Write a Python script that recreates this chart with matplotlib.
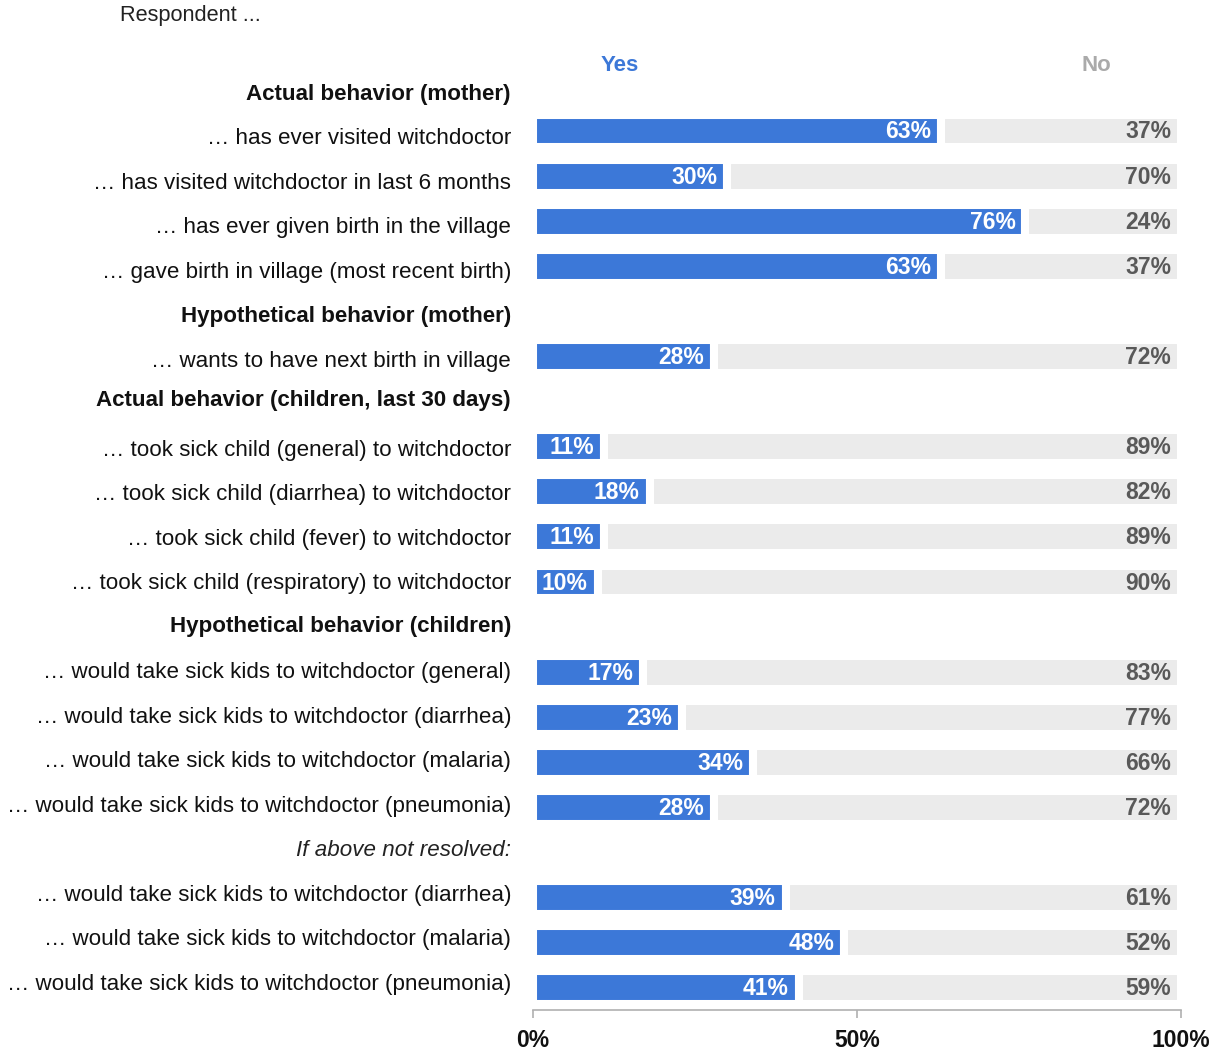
import matplotlib
matplotlib.use("Agg")
import matplotlib.pyplot as plt
from matplotlib.transforms import blended_transform_factory

# Survey items (row order, top to bottom) and their answer shares in %
items = [
    "… has ever visited witchdoctor",
    "… has visited witchdoctor in last 6 months",
    "… has ever given birth in the village",
    "… gave birth in village (most recent birth)",
    "… wants to have next birth in village",
    "… took sick child (general) to witchdoctor",
    "… took sick child (diarrhea) to witchdoctor",
    "… took sick child (fever) to witchdoctor",
    "… took sick child (respiratory) to witchdoctor",
    "… would take sick kids to witchdoctor (general)",
    "… would take sick kids to witchdoctor (diarrhea)",
    "… would take sick kids to witchdoctor (malaria)",
    "… would take sick kids to witchdoctor (pneumonia)",
    "… would take sick kids to witchdoctor (diarrhea)",
    "… would take sick kids to witchdoctor (malaria)",
    "… would take sick kids to witchdoctor (pneumonia)",
]
yes_pct = [63, 30, 76, 63, 28, 11, 18, 11, 10, 17, 23, 34, 28, 39, 48, 41]
no_pct = [37, 70, 24, 37, 72, 89, 82, 89, 90, 83, 77, 66, 72, 61, 52, 59]

# Section headings and the item index each one precedes
headings = [
    ("Actual behavior (mother)", 0, "bold"),
    ("Hypothetical behavior (mother)", 4, "bold"),
    ("Actual behavior (children, last 30 days)", 5, "bold"),
    ("Hypothetical behavior (children)", 9, "bold"),
    ("If above not resolved:", 13, "italic"),
]
x_ticks = [0, 50, 100]
x_tick_labels = ["0%", "50%", "100%"]

BLUE = "#3c78d8"
GREY_BAR = "#ebebeb"
GREY_TXT = "#595959"
GREY_HEAD = "#aaaaaa"

plt.rcParams["font.family"] = ["Liberation Sans", "DejaVu Sans"]

# Vertical nudge of each heading within its slot (slot units)
heading_shift = [0.0, 0.0, -0.11, -0.03, 0.0]

# Build the row layout: each heading takes one slot, each item one slot
slots = []  # (kind, text, style, shift)
head_at = {h[1]: (h, s) for h, s in zip(headings, heading_shift)}
for i, lab in enumerate(items):
    if i in head_at:
        (text, _, style), shift = head_at[i]
        slots.append(("head", text, style, shift))
    slots.append(("item", lab, "normal", 0.0))

first_item = next(k for k, s in enumerate(slots) if s[0] == "item")
pos = [k - first_item for k in range(len(slots))]

W, H, DPI = 1219, 1051, 100
fig = plt.figure(figsize=(W / DPI, H / DPI), dpi=DPI)
x0, x1 = 533, 1181
ybot, ytop = 1010, 40
ax = fig.add_axes([x0 / W, 1 - ybot / H, (x1 - x0) / W, (ybot - ytop) / H])

slot_px = 45.1
row0 = 131
ax.set_xlim(0, 100)
ax.set_ylim((ybot - row0) / slot_px, (ytop - row0) / slot_px)

item_pos = [pos[k] for k, s in enumerate(slots) if s[0] == "item"]
edge = 5.8  # white outline width (pt) that separates the two segments
ax.barh(item_pos, yes_pct, height=0.73, color=BLUE, edgecolor="white",
        linewidth=edge, zorder=2)
ax.barh(item_pos, no_pct, left=yes_pct, height=0.73, color=GREY_BAR,
        edgecolor="white", linewidth=edge, zorder=2)

for y, yv, nv in zip(item_pos, yes_pct, no_pct):
    ax.annotate(f"{yv}%", (yv, y), xytext=(-10, -1), textcoords="offset pixels",
                ha="right", va="center", color="white", fontweight="bold",
                fontsize=16.5, zorder=3)
    ax.annotate(f"{nv}%", (yv + nv, y), xytext=(-10, -1), textcoords="offset pixels",
                ha="right", va="center", color=GREY_TXT, fontweight="bold",
                fontsize=16.5, zorder=3)

# Row labels and section headings, right-aligned left of the bars;
# the label column runs on a slightly tighter pitch than the bars
label_pitch = 44.5 / slot_px
label_offset = 7.7 / slot_px
tr = blended_transform_factory(ax.transAxes, ax.transData)
for k, (kind, text, style, shift) in enumerate(slots):
    kw = dict(ha="right", va="center", fontsize=16.1, color="#111111",
              transform=tr)
    if style == "bold":
        kw["fontweight"] = "bold"
    elif style == "italic":
        kw["fontstyle"] = "italic"
        kw["color"] = "#222222"
    ax.text(-22 / (x1 - x0), pos[k] * label_pitch + label_offset + shift,
            text, **kw)

# Column headers
ax.text(13.4, -1.45, "Yes", ha="center", va="center", color=BLUE,
        fontweight="bold", fontsize=16)
ax.text(87.0, -1.45, "No", ha="center", va="center", color=GREY_HEAD,
        fontweight="bold", fontsize=16)

fig.text(120 / W, 1 - 16 / H, "Respondent ...", ha="left", va="center",
         fontsize=15.7, color="#222222")

# Bottom axis
for side in ("top", "right", "left"):
    ax.spines[side].set_visible(False)
ax.spines["bottom"].set_color("#b0b0b0")
ax.spines["bottom"].set_linewidth(1.2)
ax.set_yticks([])
ax.set_xticks(x_ticks)
ax.set_xticklabels(x_tick_labels, fontweight="bold", fontsize=16.5,
                   color="#111111")
ax.tick_params(axis="x", direction="out", length=6, width=1.2,
               color="#b0b0b0", pad=8)

fig.savefig("out.png", dpi=DPI)
